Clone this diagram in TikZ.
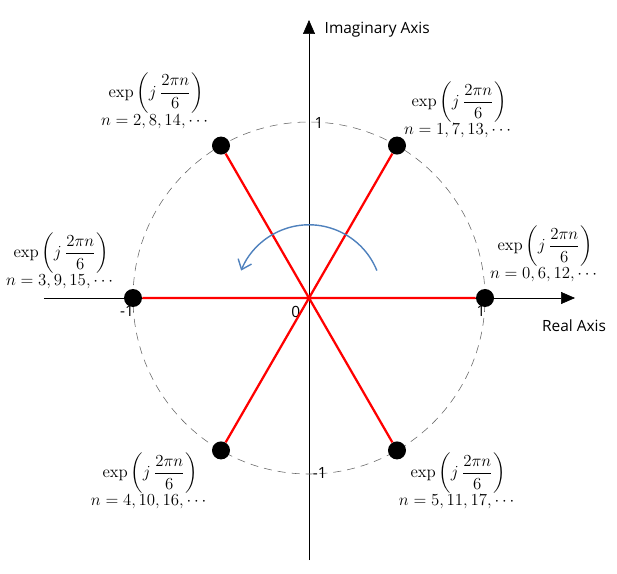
\documentclass[tikz,border=0pt]{standalone}
\usepackage{amsmath}
\usepackage{fontspec}
\setsansfont{Open Sans}
\usetikzlibrary{arrows.meta}
\usetikzlibrary{math}
\definecolor{sred}{RGB}{255,0,0}
\definecolor{sblue}{RGB}{79,129,189}
\tikzset{
  dot/.style={circle, fill=black, inner sep=0pt, minimum size=0.45cm},
  rootlabel/.style={align=center, font=\large},
  axislabel/.style={font=\sffamily\fontsize{11}{13}\selectfont, inner sep=1pt},
}

\begin{document}
\begin{tikzpicture}
\tikzmath{
\R=4.4;
\rarc=1.83;
}
\useasboundingbox (-7.725,-6.875) rectangle (7.7,7.45);

%axes
\coordinate (O) at (0,0);
\coordinate (xl) at (-6.625,0);
\coordinate (xr) at (6.65,0);
\coordinate (yb) at (0,-6.55);
\coordinate (yt) at (0,6.95);
\draw[-{Triangle[length=0.35cm,width=0.3cm]}] (xl) -- (xr);
\draw[-{Triangle[length=0.35cm,width=0.3cm]}] (yb) -- (yt);
\node[axislabel, anchor=west] (im) at (0.35,6.72) {Imaginary Axis};
\node[axislabel] (re) at (6.625,-0.7) {Real Axis};

%unit circle
\draw[gray!80!black, dash pattern=on 0.2cm off 0.15cm] (O) circle (\R);
\node[axislabel] (t1) at (0.25,4.38) {1};
\node[axislabel] (tm1) at (0.27,-4.38) {-1};
\node[axislabel] (lm1) at (-4.55,-0.33) {-1};
\node[axislabel] (r1) at (4.3,-0.33) {1};
\node[axislabel] (t0) at (-0.33,-0.35) {0};

%roots
\node[dot] (p0) at (0:\R) {};
\node[dot] (p1) at (60:\R) {};
\node[dot] (p2) at (120:\R) {};
\node[dot] (p3) at (180:\R) {};
\node[dot] (p4) at (240:\R) {};
\node[dot] (p5) at (300:\R) {};
\draw[color=sred, line width=1.6pt] (O) -- (p0) (O) -- (p1) (O) -- (p2)
  (O) -- (p3) (O) -- (p4) (O) -- (p5);

%rotation
\draw[color=sblue, line width=1pt, -{Straight Barb[length=2.2mm,width=3.6mm]}] (22:\rarc) arc (22:158:\rarc);

%labels
\node[rootlabel] (l0) at (5.9,1.1) {$\exp\left(j\,\dfrac{2\pi n}{6}\right)$\\[0pt]$n=0,6,12,\cdots$};
\node[rootlabel] (l1) at (3.75,4.7) {$\exp\left(j\,\dfrac{2\pi n}{6}\right)$\\[0pt]$n=1,7,13,\cdots$};
\node[rootlabel] (l2) at (-3.825,4.93) {$\exp\left(j\,\dfrac{2\pi n}{6}\right)$\\[0pt]$n=2,8,14,\cdots$};
\node[rootlabel] (l3) at (-6.2,0.925) {$\exp\left(j\,\dfrac{2\pi n}{6}\right)$\\[0pt]$n=3,9,15,\cdots$};
\node[rootlabel] (l4) at (-3.975,-4.575) {$\exp\left(j\,\dfrac{2\pi n}{6}\right)$\\[0pt]$n=4,10,16,\cdots$};
\node[rootlabel] (l5) at (3.725,-4.575) {$\exp\left(j\,\dfrac{2\pi n}{6}\right)$\\[0pt]$n=5,11,17,\cdots$};

\end{tikzpicture}
\end{document}
